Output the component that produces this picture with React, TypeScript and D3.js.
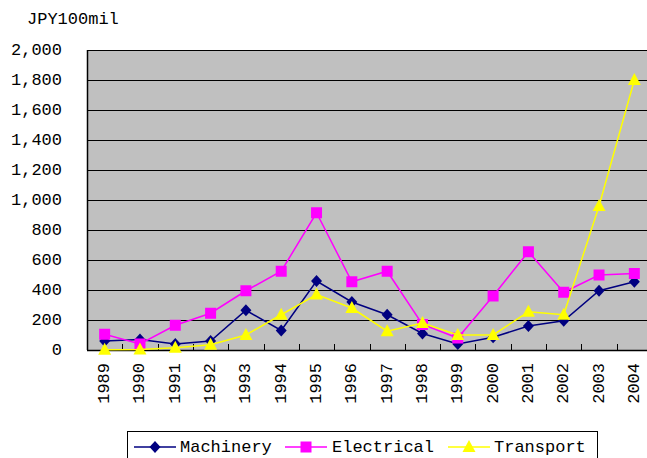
import * as d3 from 'd3';

const years = ['1989', '1990', '1991', '1992', '1993', '1994', '1995', '1996', '1997', '1998', '1999', '2000', '2001', '2002', '2003', '2004'];
const machinery = [60, 70, 40, 60, 265, 130, 460, 320, 235, 110, 40, 85, 160, 195, 395, 455];
const electrical = [105, 40, 165, 245, 395, 525, 915, 455, 525, 170, 80, 360, 655, 385, 500, 510];
const transport = [2, 3, 15, 35, 100, 235, 370, 280, 125, 180, 100, 100, 255, 235, 960, 1800];
const yTicks = [0, 200, 400, 600, 800, 1000, 1200, 1400, 1600, 1800, 2000];

const series = [
  { name: 'Machinery', values: machinery, color: '#000080', marker: 'diamond' },
  { name: 'Electrical', values: electrical, color: '#FF00FF', marker: 'square' },
  { name: 'Transport', values: transport, color: '#FFFF00', marker: 'triangle' },
];

const FONT = '"Liberation Mono", "DejaVu Sans Mono", monospace';

function Marker({ type, x, y, color }: { type: string; x: number; y: number; color: string }) {
  if (type === 'diamond') {
    return <path d={`M${x},${y - 6}L${x + 5.5},${y}L${x},${y + 6}L${x - 5.5},${y}Z`} fill={color} />;
  }
  if (type === 'square') {
    return <rect x={x - 5.5} y={y - 5.5} width={11} height={11} fill={color} />;
  }
  return <path d={`M${x},${y - 7}L${x + 6.5},${y + 5}L${x - 6.5},${y + 5}Z`} fill={color} />;
}

export default function App() {
  const width = 647;
  const height = 458;
  const margin = { top: 50, left: 87 };
  const plotW = 565;
  const plotH = 300;

  const x = d3.scaleBand().domain(years).range([0, plotW]);
  const y = d3.scaleLinear().domain([0, 2000]).range([plotH, 0]);
  const fmt = d3.format(',');
  const cx = (yr: string) => (x(yr) as number) + x.bandwidth() / 2;

  const line = d3.line<number>()
    .x((_, i) => cx(years[i]))
    .y(d => y(d));

  const legendItems = [
    { x: 134, tx: 180 },
    { x: 285, tx: 332 },
    { x: 448, tx: 494 },
  ];

  return (
    <svg width={width} height={height} style={{ position: 'absolute', left: 0, top: 0, background: '#fff' }}>
      <text x={27} y={24} fontFamily={FONT} fontSize={17} fill="#000">JPY100mil</text>
      <g transform={`translate(${margin.left},${margin.top})`}>
        <rect x={0} y={0} width={plotW} height={plotH} fill="#C0C0C0" />
        {/* gridlines */}
        {yTicks.map(t => (
          <g key={t}>
            <line x1={0} x2={plotW} y1={Math.round(y(t)) + 0.5} y2={Math.round(y(t)) + 0.5} stroke="#000" strokeWidth={1} />
            <line x1={0} x2={5} y1={Math.round(y(t)) + 0.5} y2={Math.round(y(t)) + 0.5} stroke="#000" />
            <text
              x={-25}
              y={y(t)}
              textAnchor="end"
              dominantBaseline="central"
              fontFamily={FONT}
              fontSize={17}
              fill="#000"
            >
              {fmt(t)}
            </text>
          </g>
        ))}
        {/* axes */}
        <line x1={0.5} x2={0.5} y1={0} y2={plotH} stroke="#000" strokeWidth={1.5} />
        <line x1={0} x2={plotW} y1={plotH + 0.5} y2={plotH + 0.5} stroke="#000" strokeWidth={1.5} />
        {years.slice(1).map(yr => (
          <line key={yr} x1={Math.round(x(yr) as number) + 0.5} x2={Math.round(x(yr) as number) + 0.5} y1={plotH - 6} y2={plotH} stroke="#000" />
        ))}
        {years.map(yr => (
          <text
            key={yr}
            transform={`translate(${cx(yr)},${plotH + 13}) rotate(-90)`}
            textAnchor="end"
            dominantBaseline="central"
            fontFamily={FONT}
            fontSize={17}
            fill="#000"
          >
            {yr}
          </text>
        ))}
        {/* series */}
        {series.map(s => (
          <g key={s.name}>
            <path d={line(s.values) as string} fill="none" stroke={s.color} strokeWidth={1.5} />
            {s.values.map((v, i) => (
              <Marker key={i} type={s.marker} x={cx(years[i])} y={y(v)} color={s.color} />
            ))}
          </g>
        ))}
      </g>
      {/* legend */}
      <rect x={127.5} y={431.5} width={470} height={40} fill="#fff" stroke="#000" strokeWidth={1} />
      {series.map((s, i) => (
        <g key={s.name}>
          <line x1={legendItems[i].x} x2={legendItems[i].x + 42} y1={447} y2={447} stroke={s.color} strokeWidth={1.5} />
          <Marker type={s.marker} x={legendItems[i].x + 21} y={447} color={s.color} />
          <text x={legendItems[i].tx} y={447} dominantBaseline="central" fontFamily={FONT} fontSize={17} fill="#000">
            {s.name}
          </text>
        </g>
      ))}
    </svg>
  );
}
